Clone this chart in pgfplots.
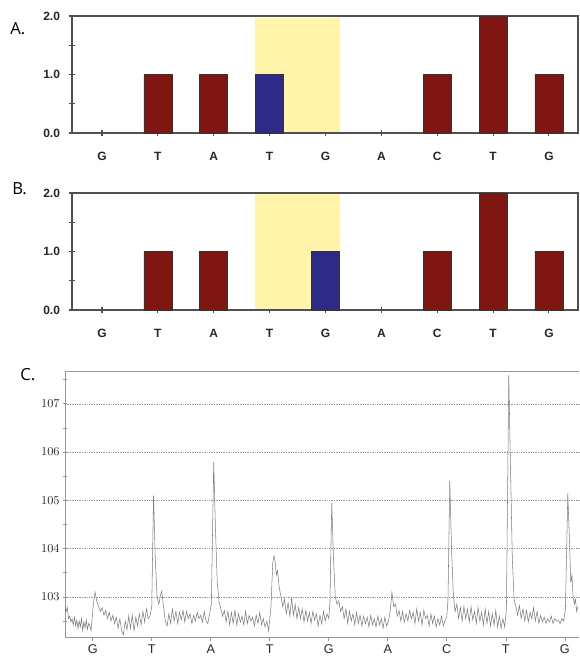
\documentclass[border=0pt]{standalone}
\usepackage{fontspec}
\setmainfont{Liberation Sans}
\newfontfamily\panelfont{Open Sans}
\usepackage{pgfplots}
\pgfplotsset{compat=1.18}
\definecolor{barred}{RGB}{128,22,18}
\definecolor{barblue}{RGB}{46,42,133}
\definecolor{hl}{RGB}{255,244,170}
\definecolor{axgray}{RGB}{80,80,80}
\definecolor{cgray}{RGB}{150,150,150}
\definecolor{trace}{RGB}{125,125,125}
\pgfplotsset{
  barpanel/.style={
    scale only axis, width=379.5pt, height=87.75pt,
    xmin=-0.537, xmax=8.52, ymin=0, ymax=2,
    xtick={0,...,8}, xticklabels={G,T,A,T,G,A,C,T,G},
    ytick={0,1,2}, yticklabels={0.0,1.0,2.0},
    minor ytick={0.5,1.5},
    tick pos=left,
    tick align=center, major tick length=5pt, minor tick length=5pt,
    axis line style={draw=axgray, line width=0.9pt},
    tick style={draw=axgray, line width=0.8pt},
    ticklabel style={font=\bfseries\fontsize{9}{10}\selectfont, text=black!85},
    xticklabel style={yshift=-8.5pt},
    yticklabel style={xshift=-3pt},
    clip=false,
  },
}
\begin{document}
\begin{tikzpicture}
\useasboundingbox (0pt,0pt) rectangle (435pt,-492pt);
% Panel A
\begin{axis}[barpanel, at={(54pt,-99.75pt)}, anchor=south west]
\addplot[fill=hl, draw=none] coordinates {(2.74,0.02) (4.26,0.02) (4.26,1.97) (2.74,1.97)} -- cycle;
\addplot[ybar, bar width=0.5, bar shift=0pt, fill=barred, draw=black!80, line width=0.5pt]
  coordinates {(1,1) (2,1) (6,1) (7,2) (8,1)};
\addplot[ybar, bar width=0.5, bar shift=0pt, fill=barblue, draw=black!80, line width=0.5pt]
  coordinates {(3,1)};
\end{axis}
% Panel B
\begin{axis}[barpanel, at={(54pt,-232.5pt)}, anchor=south west]
\addplot[fill=hl, draw=none] coordinates {(2.74,0.02) (4.26,0.02) (4.26,1.99) (2.74,1.99)} -- cycle;
\addplot[ybar, bar width=0.5, bar shift=0pt, fill=barred, draw=black!80, line width=0.5pt]
  coordinates {(1,1) (2,1) (6,1) (7,2) (8,1)};
\addplot[ybar, bar width=0.5, bar shift=0pt, fill=barblue, draw=black!80, line width=0.5pt]
  coordinates {(4,1)};
\end{axis}
% Panel C
\begin{axis}[scale only axis, width=385.5pt, height=199.5pt,
  at={(48.75pt,-477.75pt)}, anchor=south west,
  xmin=-0.47, xmax=8.24, ymin=102.17, ymax=107.68,
  axis x line*=bottom, axis y line*=left,
  axis line style={draw=cgray, line width=0.6pt},
  xtick={0,...,8}, xticklabels={G,T,A,T,G,A,C,T,G},
  ytick={103,104,105,106,107}, minor ytick={102.5,103.5,104.5,105.5,106.5,107.5},
  ymajorgrids, major grid style={draw=gray!80, dash pattern=on 1pt off 0.8pt, line width=0.45pt},
  tick style={draw=cgray, line width=0.5pt},
  ytick align=center, major tick length=3pt, minor tick length=3pt,
  xtick align=outside,
  ticklabel style={font=\fontsize{9.5}{11}\selectfont, text=black!85},
  xticklabel style={yshift=1pt},
  yticklabel style={xshift=1pt},
  clip=false,
]
\draw[cgray, line width=0.6pt] (rel axis cs:0,1) -- (rel axis cs:1,1);
\addplot[trace, line width=0.4pt, mark=none] coordinates {
(-0.47,102.82) (-0.45,102.70) (-0.43,102.78) (-0.41,102.55) (-0.39,102.60) (-0.37,102.48)
(-0.35,102.55) (-0.33,102.42) (-0.31,102.58) (-0.29,102.40) (-0.27,102.52) (-0.25,102.35)
(-0.23,102.50) (-0.21,102.38) (-0.19,102.55) (-0.17,102.30) (-0.15,102.48) (-0.13,102.36)
(-0.11,102.52) (-0.09,102.33) (-0.07,102.45) (-0.05,102.40) (-0.03,102.30) (-0.01,102.55)
(0.01,102.85) (0.04,103.10) (0.07,102.90) (0.10,102.80) (0.13,102.70) (0.16,102.78)
(0.19,102.62) (0.22,102.72) (0.25,102.55) (0.28,102.68) (0.31,102.50) (0.34,102.62)
(0.37,102.45) (0.40,102.58) (0.43,102.35) (0.46,102.55) (0.49,102.30) (0.52,102.22)
(0.55,102.50) (0.58,102.32) (0.61,102.60) (0.64,102.35) (0.67,102.62) (0.70,102.30)
(0.73,102.58) (0.76,102.40) (0.79,102.65) (0.82,102.42) (0.85,102.70) (0.88,102.48)
(0.91,102.75) (0.94,102.55) (0.97,102.60) (1.00,102.80) (1.03,105.10) (1.06,103.80)
(1.09,103.00) (1.12,102.85) (1.15,103.05) (1.17,103.12) (1.20,102.80) (1.23,102.50)
(1.26,102.40) (1.29,102.65) (1.32,102.45) (1.35,102.75) (1.38,102.50) (1.41,102.70)
(1.44,102.45) (1.47,102.68) (1.50,102.52) (1.53,102.72) (1.56,102.48) (1.59,102.70)
(1.62,102.55) (1.65,102.65) (1.68,102.45) (1.71,102.62) (1.74,102.50) (1.77,102.68)
(1.80,102.55) (1.83,102.62) (1.86,102.48) (1.89,102.70) (1.92,102.50) (1.95,102.45)
(1.98,102.65) (2.01,102.85) (2.05,105.80) (2.08,104.40) (2.11,103.30) (2.14,102.90)
(2.17,102.75) (2.20,102.60) (2.23,102.72) (2.26,102.48) (2.29,102.70) (2.32,102.42)
(2.35,102.68) (2.38,102.45) (2.41,102.72) (2.44,102.42) (2.47,102.65) (2.50,102.48)
(2.53,102.60) (2.56,102.42) (2.59,102.70) (2.62,102.45) (2.65,102.62) (2.68,102.50)
(2.71,102.58) (2.74,102.40) (2.77,102.62) (2.80,102.45) (2.83,102.68) (2.86,102.42)
(2.89,102.55) (2.92,102.38) (2.95,102.50) (2.98,102.30) (3.02,102.80) (3.05,103.70)
(3.07,103.85) (3.09,103.75) (3.11,103.45) (3.13,103.55) (3.16,103.20) (3.19,103.00)
(3.22,102.80) (3.25,102.95) (3.28,102.65) (3.31,102.88) (3.34,102.60) (3.37,102.98)
(3.40,102.62) (3.43,102.85) (3.46,102.55) (3.49,102.78) (3.52,102.55) (3.55,102.75)
(3.58,102.48) (3.61,102.72) (3.64,102.50) (3.67,102.68) (3.70,102.45) (3.73,102.70)
(3.76,102.52) (3.79,102.65) (3.82,102.40) (3.85,102.62) (3.88,102.45) (3.91,102.70)
(3.94,102.50) (3.97,102.65) (4.00,102.55) (4.02,102.90) (4.05,104.95) (4.08,103.80)
(4.11,103.00) (4.14,102.85) (4.17,102.92) (4.20,102.70) (4.23,102.80) (4.26,102.55)
(4.29,102.75) (4.32,102.45) (4.35,102.70) (4.38,102.50) (4.41,102.65) (4.44,102.42)
(4.47,102.68) (4.50,102.45) (4.53,102.62) (4.56,102.40) (4.59,102.60) (4.62,102.45)
(4.65,102.58) (4.68,102.38) (4.71,102.62) (4.74,102.42) (4.77,102.55) (4.80,102.38)
(4.83,102.60) (4.86,102.42) (4.89,102.55) (4.92,102.35) (4.95,102.58) (4.98,102.40)
(5.01,102.50) (5.04,102.70) (5.07,103.10) (5.10,102.80) (5.13,102.85) (5.16,102.60)
(5.19,102.72) (5.22,102.50) (5.25,102.70) (5.28,102.48) (5.31,102.65) (5.34,102.50)
(5.37,102.72) (5.40,102.55) (5.43,102.68) (5.46,102.45) (5.49,102.75) (5.52,102.50)
(5.55,102.68) (5.58,102.42) (5.61,102.72) (5.64,102.55) (5.67,102.62) (5.70,102.40)
(5.73,102.65) (5.76,102.45) (5.79,102.60) (5.82,102.38) (5.85,102.55) (5.88,102.42)
(5.91,102.60) (5.94,102.40) (5.97,102.50) (6.00,102.60) (6.02,102.95) (6.05,105.40)
(6.08,104.00) (6.11,103.05) (6.14,102.70) (6.17,102.85) (6.20,102.55) (6.23,102.78)
(6.26,102.50) (6.29,102.80) (6.32,102.55) (6.35,102.75) (6.38,102.48) (6.41,102.80)
(6.44,102.52) (6.47,102.70) (6.50,102.45) (6.53,102.78) (6.56,102.50) (6.59,102.68)
(6.62,102.42) (6.65,102.75) (6.68,102.45) (6.71,102.70) (6.74,102.40) (6.77,102.65)
(6.80,102.42) (6.83,102.72) (6.86,102.38) (6.89,102.60) (6.92,102.35) (6.95,102.55)
(6.98,102.38) (7.01,102.75) (7.05,107.60) (7.08,105.60) (7.11,103.80) (7.14,102.95)
(7.17,102.80) (7.20,102.62) (7.23,102.82) (7.26,102.55) (7.29,102.75) (7.32,102.50)
(7.35,102.72) (7.38,102.48) (7.41,102.68) (7.44,102.55) (7.47,102.78) (7.50,102.50)
(7.53,102.70) (7.56,102.45) (7.59,102.62) (7.62,102.48) (7.65,102.58) (7.68,102.45)
(7.71,102.55) (7.74,102.48) (7.77,102.60) (7.80,102.45) (7.83,102.55) (7.86,102.50)
(7.89,102.52) (7.92,102.45) (7.95,102.55) (7.98,102.50) (8.01,102.75) (8.05,105.15)
(8.08,104.10) (8.10,103.30) (8.12,103.45) (8.14,103.00) (8.16,102.85) (8.18,102.95)
(8.20,102.70) (8.22,102.80)
};
\end{axis}
% panel letters
\node[font=\panelfont\fontsize{12.5}{14}\selectfont, anchor=west, inner sep=0pt] at (7.5pt,-21.75pt) {A.};
\node[font=\panelfont\fontsize{12.5}{14}\selectfont, anchor=west, inner sep=0pt] at (9pt,-141.75pt) {B.};
\node[font=\panelfont\fontsize{12.5}{14}\selectfont, anchor=west, inner sep=0pt] at (15pt,-281.25pt) {C.};
\end{tikzpicture}
\end{document}
